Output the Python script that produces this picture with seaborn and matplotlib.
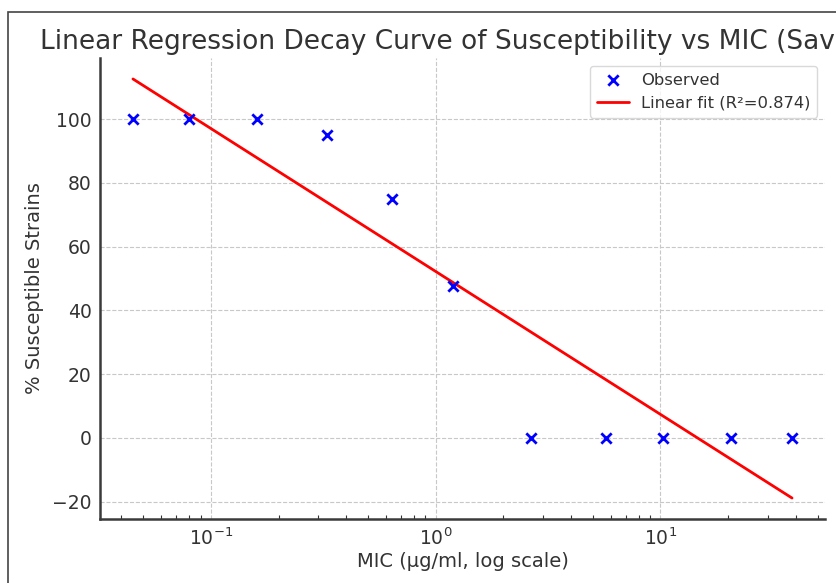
import numpy as np
import pandas as pd
import matplotlib
matplotlib.use("Agg")
import matplotlib.pyplot as plt
import seaborn as sns
from matplotlib.patches import Rectangle

# MIC values (ug/ml) and % susceptible strains
mic = [0.045, 0.08, 0.16, 0.33, 0.64, 1.2, 2.65, 5.75, 10.3, 20.7, 38.5]
pct_susceptible = [100, 100, 100, 95, 75, 47.5, 0, 0, 0, 0, 0]

df = pd.DataFrame({"mic": mic, "pct": pct_susceptible})
df["log_mic"] = np.log10(df["mic"])

# linear fit on log10(MIC)
coef = np.polyfit(df["log_mic"], df["pct"], 1)
df["fit"] = np.polyval(coef, df["log_mic"])
r2 = 1 - ((df["pct"] - df["fit"]) ** 2).sum() / ((df["pct"] - df["pct"].mean()) ** 2).sum()
print("R2:", round(r2, 3))

sns.set_style("whitegrid")
txt = "#333333"
plt.rcParams["font.family"] = ["DejaVu Sans"]

fig = plt.figure(figsize=(8.37, 5.83), dpi=100)
ax = fig.add_axes([100 / 837, 1 - 519 / 583, (825 - 100) / 837, (519 - 58) / 583])

sns.scatterplot(data=df, x="mic", y="pct", marker="x", color="blue", s=55,
                linewidth=2, label="Observed", ax=ax, zorder=3)
sns.lineplot(data=df, x="mic", y="fit", color="red", linewidth=2,
             label="Linear fit (R²=0.874)", ax=ax, zorder=2)

ax.set_xscale("log")
ax.margins(x=0.05, y=0.05)
ax.set_facecolor("white")

ax.grid(True, which="major", linestyle="--", color="#c8c8c8", linewidth=0.8)
ax.grid(False, which="minor")
for side in ["top", "right"]:
    ax.spines[side].set_visible(False)
for side in ["left", "bottom"]:
    ax.spines[side].set_color("#3a3a3a")
    ax.spines[side].set_linewidth(1.8)

ax.tick_params(axis="both", which="major", direction="in", length=5, width=1,
               colors=txt, labelsize=13.5, pad=6)
ax.tick_params(axis="x", which="minor", direction="in", length=3, width=0.8,
               colors=txt, bottom=True)

ax.set_xlabel("MIC (µg/ml, log scale)", fontsize=14, color=txt, labelpad=2)
ax.set_ylabel("% Susceptible Strains", fontsize=14, color=txt, labelpad=6)

leg = ax.legend(loc="upper right", fontsize=11.8, frameon=True, fancybox=True,
                borderpad=0.4, handlelength=2.0, handletextpad=0.7)
leg.get_frame().set_edgecolor("#d0d0d0")
for t in leg.get_texts():
    t.set_color(txt)

fig.text(40 / 837, 1 - 49 / 583,
         "Linear Regression Decay Curve of Susceptibility vs MIC (Saving Variant)",
         fontsize=19, color=txt, ha="left", va="baseline")

# frame of the original (cropped) figure
fig.patches.append(Rectangle((8 / 837, -1), 2, 2 - 12 / 583, transform=fig.transFigure,
                             fill=False, edgecolor="#444444", linewidth=1.2))

fig.savefig("out.png", dpi=100)
